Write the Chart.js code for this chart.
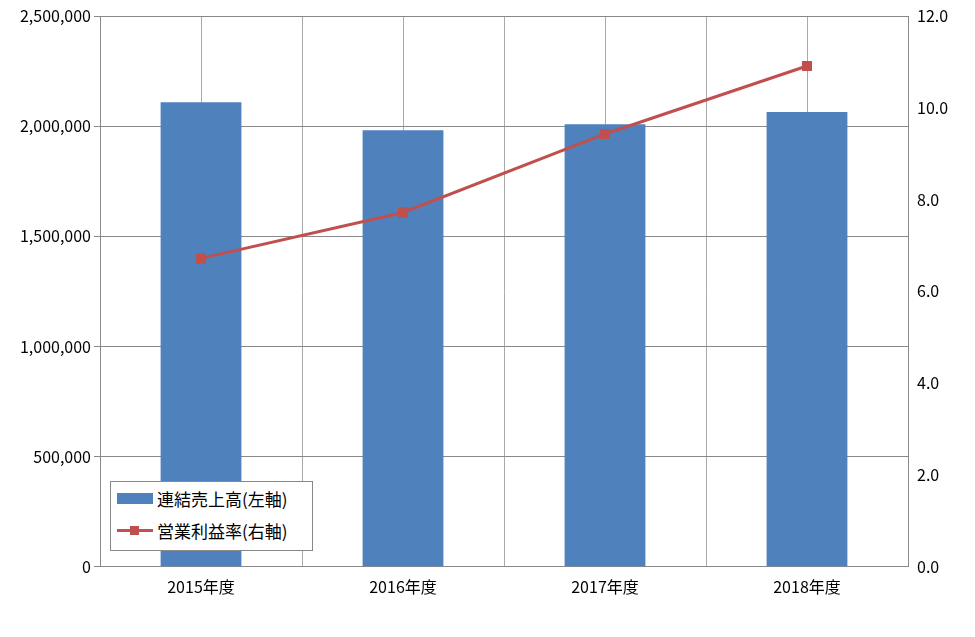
<!DOCTYPE html>
<html><head><meta charset="utf-8">
<script src="https://cdn.jsdelivr.net/npm/chart.js@4/dist/chart.umd.min.js"></script>
<style>
body{margin:0;background:#fff;font-family:"Noto Sans CJK JP",sans-serif}
#wrap{position:relative;width:975px;height:637px}
#lg{position:absolute;left:110px;top:481px;width:201px;height:68px;border:1px solid #888;background:#fff;font-size:17px;color:#000}
.row{position:absolute;left:6px;display:flex;align-items:center}
</style></head><body>
<div id="wrap"><canvas id="c" width="975" height="637"></canvas>
<div id="lg">
<div class="row" style="top:4px"><span style="display:inline-block;width:36px;height:11px;background:#4f81bd;margin-right:4px"></span>連結売上高(左軸)</div>
<div class="row" style="top:36px"><span style="position:relative;display:inline-block;width:36px;height:11px;margin-right:4px"><span style="position:absolute;left:0;top:4px;width:36px;height:3px;background:#c0504d"></span><span style="position:absolute;left:13px;top:1px;width:9px;height:9px;background:#c0504d"></span></span>営業利益率(右軸)</div>
</div></div>
<script>
const categories=["2015年度","2016年度","2017年度","2018年度"];
const sales=[2109000,1982000,2009000,2064000];
const margin=[6.72,7.72,9.43,10.91];
const salesLabel="連結売上高(左軸)";
const marginLabel="営業利益率(右軸)";
const font={family:"'Noto Sans CJK JP','Noto Sans',sans-serif",size:16};
new Chart(document.getElementById('c'),{
data:{labels:categories,datasets:[
{type:'line',label:marginLabel,data:margin,yAxisID:'y2',borderColor:'#c0504d',backgroundColor:'#c0504d',borderWidth:3,pointStyle:'rect',pointRadius:5,order:0},
{type:'bar',label:salesLabel,data:sales,yAxisID:'y',backgroundColor:'#4f81bd',barPercentage:0.4,categoryPercentage:1,order:1}
]},
options:{responsive:false,animation:false,
layout:{padding:{top:16,left:0,right:0,bottom:37}},
plugins:{legend:{display:false},tooltip:{enabled:false}},
scales:{
x:{type:'category',offset:true,grid:{display:false},border:{color:'#888'},ticks:{color:'#000',font}},
xg:{type:'linear',min:0,max:4,position:'bottom',display:true,grid:{color:'#aaa',drawTicks:false},border:{display:false},ticks:{display:false,stepSize:0.5}},
y:{position:'left',min:0,max:2500000,afterFit:s=>{s.width=100},grid:{color:'#888',tickLength:6},border:{color:'#888'},ticks:{stepSize:500000,color:'#000',font,callback:v=>v.toLocaleString('en-US')}},
y2:{position:'right',min:0,max:12,afterFit:s=>{s.width=67},grid:{display:false,tickLength:6},border:{color:'#888'},ticks:{stepSize:2,color:'#000',font,callback:v=>v.toFixed(1)}}
}}});
</script></body></html>
